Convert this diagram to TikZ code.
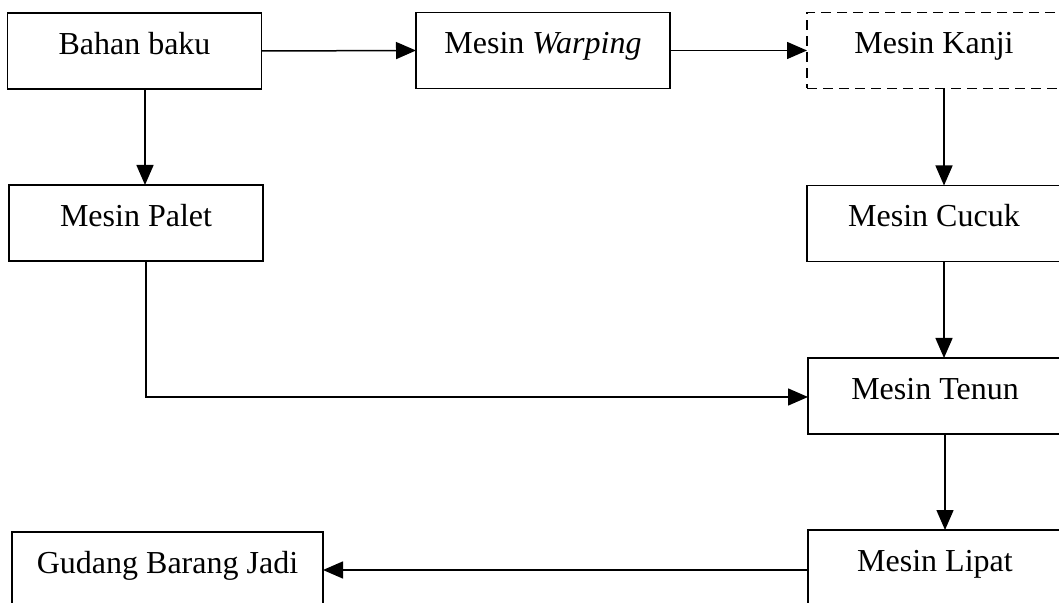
\documentclass[tikz,border=0pt]{standalone}
\usepackage{fontspec}
\setmainfont{Liberation Serif}
\usetikzlibrary{arrows.meta}
\begin{document}
\begin{tikzpicture}[x=0.5pt,y=-0.5pt,
  box/.style={draw,line width=0.85pt,rectangle,inner sep=0pt,outer sep=0pt,minimum width=127pt,minimum height=38pt},
  lbl/.style={font=\fontsize{16pt}{19pt}\selectfont,anchor=base,inner sep=0pt,yshift=-1.6pt},
  conn/.style={line width=0.75pt,-{Triangle[length=10pt,width=8.5pt]}},
  plain/.style={line width=0.75pt}]
\useasboundingbox (0,0) rectangle (1059,603);
\clip (0,0) rectangle (1059,603);
\node[box] (bahan) at (134.5,51) {};
\node[box] (warping) at (543,50.5) {};
\node[box,dashed,dash pattern=on 5pt off 3pt] (kanji) at (934,50.5) {};
\node[box] (palet) at (136,223) {};
\node[box] (cucuk) at (934,223.5) {};
\node[box] (tenun) at (935,396) {};
\node[box] (lipat) at (935,568) {};
\node[box,minimum width=155.5pt] (gudang) at (167.5,570) {};
\node[lbl] (tbahan) at (bahan.center) {Bahan baku};
\node[lbl] (twarping) at (warping.center) {Mesin \textit{Warping}};
\node[lbl] (tkanji) at (kanji.center) {Mesin Kanji};
\node[lbl] (tpalet) at (palet.center) {Mesin Palet};
\node[lbl] (tcucuk) at (cucuk.center) {Mesin Cucuk};
\node[lbl] (ttenun) at (tenun.center) {Mesin Tenun};
\node[lbl] (tlipat) at (lipat.center) {Mesin Lipat};
\node[lbl] (tgudang) at (gudang.center) {Gudang Barang Jadi};
\coordinate (pc) at (146,397);
\draw[conn] (bahan.east) -- (warping.west);
\draw[conn] (warping.east) -- (kanji.west);
\draw[conn] (145,0 |- bahan.south) -- (145,0 |- palet.north);
\draw[conn] (944,0 |- kanji.south) -- (944,0 |- cucuk.north);
\draw[conn] (944,0 |- cucuk.south) -- (944,0 |- tenun.north);
\draw[conn] (945,0 |- tenun.south) -- (945,0 |- lipat.north);
\draw[conn] (146,0 |- palet.south) -- (pc) -- (pc -| tenun.west);
\draw[conn] (lipat.west |- 0,570) -- (gudang.east |- 0,570);
\end{tikzpicture}
\end{document}
